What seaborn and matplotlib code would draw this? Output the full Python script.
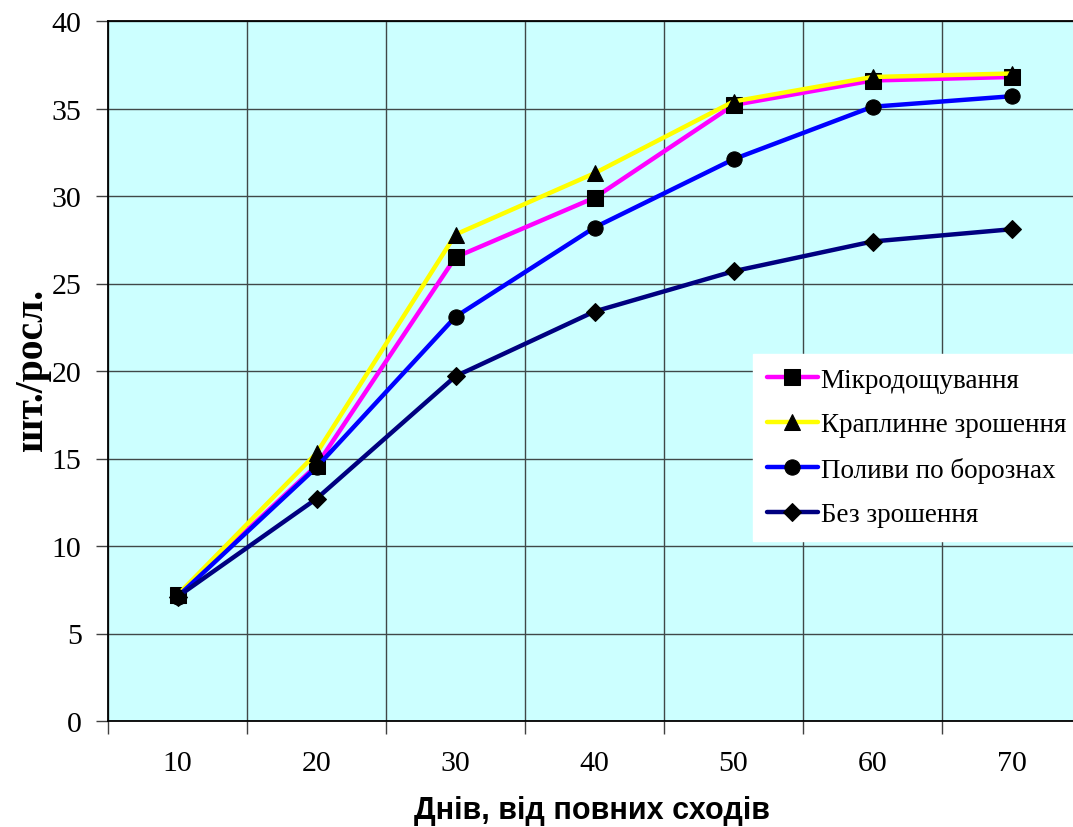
import matplotlib
matplotlib.use("Agg")
import matplotlib.pyplot as plt
import seaborn as sns
import pandas as pd
import numpy as np

days = [10, 20, 30, 40, 50, 60, 70]
series_names = ["Мікродощування", "Краплинне зрошення", "Поливи по борознах", "Без зрошення"]
mikro = [7.2, 14.6, 26.5, 29.9, 35.2, 36.6, 36.8]
krapl = [7.2, 15.3, 27.8, 31.3, 35.4, 36.8, 37.0]
polyvy = [7.1, 14.5, 23.1, 28.2, 32.1, 35.1, 35.7]
bez = [7.1, 12.7, 19.7, 23.4, 25.7, 27.4, 28.1]

values = [mikro, krapl, polyvy, bez]
rows = []
for name, vals in zip(series_names, values):
    for i, (d, v) in enumerate(zip(days, vals)):
        rows.append({"pos": i, "day": d, "value": v, "series": name})
df = pd.DataFrame(rows)

sns.set_theme(style="white")
plt.rcParams["font.family"] = ["Liberation Serif", "DejaVu Serif"]
plt.rcParams["text.color"] = "black"

fig = plt.figure(figsize=(10.73, 8.28), dpi=100)
ax = fig.add_axes([108/1073, 1-722/828, (1081-108)/1073, (722-22)/828])
ax.set_facecolor("#CCFFFF")

palette = {"Мікродощування": "#FF00FF", "Краплинне зрошення": "#FFFF00",
           "Поливи по борознах": "#0000FF", "Без зрошення": "#000080"}
markers = {"Мікродощування": "s", "Краплинне зрошення": "^",
           "Поливи по борознах": "o", "Без зрошення": "D"}

sns.lineplot(data=df, x="pos", y="value", hue="series", style="series",
             hue_order=series_names, style_order=series_names,
             palette=palette, markers=markers, dashes=False,
             linewidth=3.2, markersize=11, markeredgecolor="black",
             markerfacecolor="black", ax=ax, legend="full")
for line in ax.get_lines():
    if line.get_marker() == "D":
        line.set_markersize(9)

ax.set_xlim(-0.5, 6.5)
ax.set_ylim(0, 40)
ax.set_yticks(np.arange(0, 41, 5))
ax.set_xticks(range(len(days)))
ax.set_xticklabels([str(d) for d in days])
ax.set_xticks(np.arange(-0.5, 7, 1), minor=True)
ax.tick_params(axis="x", which="major", length=0, labelsize=21.5, pad=21, labelcolor="black")
ax.tick_params(axis="x", which="minor", length=9, width=1, direction="out", color="#404040", bottom=True)
ax.tick_params(axis="y", which="major", length=9, width=1, direction="out", color="#404040",
               labelsize=21.5, pad=10, left=True, labelcolor="black")
ax.grid(False)
ax.grid(True, axis="y", which="major", color="#404848", linewidth=1)
ax.grid(True, axis="x", which="minor", color="#404848", linewidth=1)
ax.set_axisbelow(True)
for s in ax.spines.values():
    s.set_color("black")
    s.set_linewidth(1.3)

ax.set_xlabel("")
ax.set_ylabel("")
fig.text(592/1073, 1-811/828, "Днів, від повних сходів", fontsize=22, fontweight="bold",
         family=["Liberation Sans", "DejaVu Sans"], ha="center", va="center", color="black")
fig.text(33/1073, 1-370/828, "шт./росл.", fontsize=28.5, fontweight="bold",
         rotation=90, ha="center", va="center", color="black")

h, l = ax.get_legend_handles_labels()
leg = ax.legend(h, l, loc="upper left", bbox_to_anchor=(753/1073, 1-355/828),
                bbox_transform=fig.transFigure, fontsize=19.5, frameon=True,
                fancybox=False, edgecolor="white", facecolor="white", framealpha=1,
                handlelength=1.9, handletextpad=0.1, labelspacing=0.72,
                borderpad=0.5, borderaxespad=0)
for t in leg.get_texts():
    t.set_color("black")
for lh in leg.get_lines():
    lh.set_linewidth(3.2)

fig.savefig("out.png", dpi=100)
